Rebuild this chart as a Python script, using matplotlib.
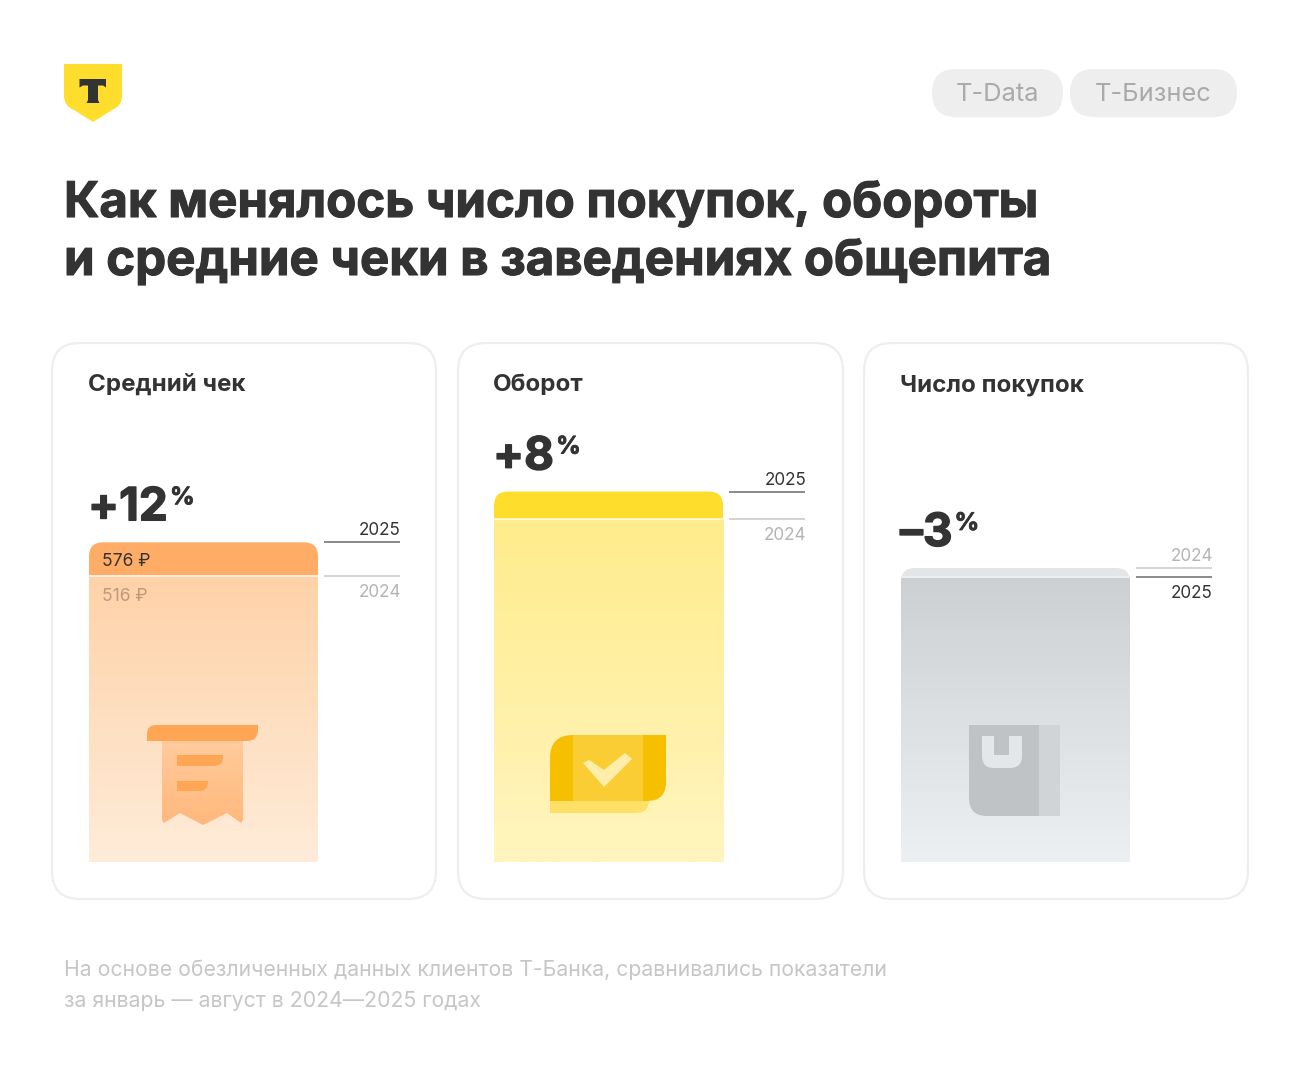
import numpy as np
import matplotlib
matplotlib.use("Agg")
import matplotlib.pyplot as plt
import matplotlib.patheffects as pe
from matplotlib.colors import LinearSegmentedColormap
from matplotlib.patches import PathPatch, Polygon
from matplotlib.path import Path

plt.rcParams['font.family'] = ['Inter', 'Roboto', 'DejaVu Sans']

W, H = 1301, 1080
DARK = '#333333'
GREY_TXT = '#b4b4b4'

# chart data
panel_titles = ["Средний чек", "Оборот", "Число покупок"]
deltas = ["+12", "+8", "–3"]
years = ["2024", "2025"]
# rubles for the first panel, the other two are index 2024 = 100
values_2024 = [516, 100, 100]
values_2025 = [576, 108, 97]
bar_labels = [["516 ₽", "576 ₽"], None, None]

title_lines = ["Как менялось число покупок, обороты",
               "и средние чеки в заведениях общепита"]
note_lines = ["На основе обезличенных данных клиентов Т-Банка, сравнивались показатели",
              "за январь — август в 2024—2025 годах"]
pills = ["T-Data", "Т-Бизнес"]

# layout, px
card_x = [(52, 436), (458, 843), (864, 1248)]
bar_left = [89, 494, 901]
px_per_unit = [0.555, 3.43, 2.94]
bar_colors = [
    ('#ffad66', '#ffd2a8', '#feecd9'),
    ('#ffdd2d', '#ffec8c', '#fff5bf'),
    ('#e4e5e7', '#cdd0d3', '#edf0f3'),
]
BAR_W = 229
BASE_Y = 862
RADIUS = 14

fig = plt.figure(figsize=(W / 100, H / 100), dpi=100, facecolor='white')


def px_axes(zorder):
    ax = fig.add_axes([0, 0, 1, 1], zorder=zorder)
    ax.set_xlim(0, W)
    ax.set_ylim(H, 0)
    ax.axis('off')
    ax.patch.set_alpha(0)
    return ax


def rrect(x0, y0, x1, y1, tl=0, tr=0, br=0, bl=0, ry_scale=1.0):
    # rect with own radius on each corner, y0 is the upper side in the pixel axes
    s = ry_scale
    verts = [(x0 + tl, y0), (x1 - tr, y0), (x1, y0), (x1, y0 + tr * s),
             (x1, y1 - br * s), (x1, y1), (x1 - br, y1),
             (x0 + bl, y1), (x0, y1), (x0, y1 - bl * s),
             (x0, y0 + tl * s), (x0, y0), (x0 + tl, y0), (x0 + tl, y0)]
    codes = [Path.MOVETO, Path.LINETO, Path.CURVE3, Path.CURVE3,
             Path.LINETO, Path.CURVE3, Path.CURVE3,
             Path.LINETO, Path.CURVE3, Path.CURVE3,
             Path.LINETO, Path.CURVE3, Path.CURVE3, Path.CLOSEPOLY]
    return Path(verts, codes)


def fill(ax, path, color, **kw):
    p = PathPatch(path, facecolor=color, edgecolor='none', **kw)
    ax.add_patch(p)
    return p


def gradient(ax, extent, top, bottom, clip=None, zorder=1.5):
    cmap = LinearSegmentedColormap.from_list('g', [top, bottom])
    im = ax.imshow(np.linspace(0, 1, 256).reshape(-1, 1), cmap=cmap, extent=extent,
                   aspect='auto', origin='upper', interpolation='bilinear', zorder=zorder)
    if clip is not None:
        im.set_clip_path(clip)
    return im


bg = px_axes(0)

# logo
shield = Path([(64, 64), (122, 64), (122, 96), (122, 106), (112, 110), (93, 122),
               (74, 110), (64, 106), (64, 96), (64, 64), (64, 64)],
              [Path.MOVETO, Path.LINETO, Path.LINETO, Path.CURVE3, Path.CURVE3, Path.LINETO,
               Path.LINETO, Path.CURVE3, Path.CURVE3, Path.LINETO, Path.CLOSEPOLY])
fill(bg, shield, '#ffdd2d')
bg.add_patch(Polygon([(79.5, 79), (106, 79), (106, 87.5), (103, 85.5), (98, 85.5), (98, 100),
                     (99.5, 103), (86.5, 103), (88, 100), (88, 85.5), (83, 85.5), (79.5, 87.5)],
                     closed=True, facecolor=DARK, edgecolor='none'))

# pills
for label, (x0, x1) in zip(pills, [(932, 1063), (1070, 1237)]):
    fill(bg, rrect(x0, 69, x1, 117, 24, 24, 24, 24), '#eeeeee')
    bg.text((x0 + x1) / 2, 101, label, ha='center', va='baseline', fontsize=18.3, color='#aaaaaa')

# title
for line, y in zip(title_lines, [217, 275]):
    bg.text(64, y, line, fontsize=35.4, fontweight='bold', color=DARK, va='baseline',
            path_effects=[pe.withStroke(linewidth=0.8, foreground=DARK)])

# footnote
for line, y in zip(note_lines, [976, 1007]):
    bg.text(64, y, line, fontsize=15.25, color='#c6c6c6', va='baseline')

# cards
for (x0, x1), name, bx in zip(card_x, panel_titles, bar_left):
    p = rrect(x0, 343, x1, 899, 28, 28, 28, 28)
    bg.add_patch(PathPatch(p, facecolor='white', edgecolor='#eeeeee', linewidth=1.6))
    bg.text(bx - 1, 391, name, fontsize=17.4, fontweight='bold', color=DARK, va='baseline')

renderer = fig.canvas.get_renderer()

# bars, one axes per panel because each has its own y scale
for i in range(3):
    v24, v25 = values_2024[i], values_2025[i]
    scale = px_per_unit[i]
    ax_h = 460
    ax_w = 311
    ax = fig.add_axes([bar_left[i] / W, (H - BASE_Y) / H, ax_w / W, ax_h / H], zorder=1)
    ax.axis('off')
    ax.patch.set_alpha(0)

    hi, lo = max(v24, v25), min(v24, v25)
    cap, top_c, bot_c = bar_colors[i]
    ry = 1 / scale  # one px in y units
    back = rrect(0, hi, BAR_W, 0, RADIUS, RADIUS, 0, 0, ry_scale=-ry)
    fill(ax, back, cap)
    gradient(ax, [0, BAR_W, 0, lo], top_c, bot_c)
    ax.plot([0, BAR_W], [lo, lo], color='white', lw=1.2, alpha=0.8, solid_capstyle='butt', zorder=2)

    # year leaders on the right of the bar
    for year, v in zip(years, (v24, v25)):
        col = '#777777' if year == "2025" else '#cccccc'
        txt = DARK if year == "2025" else GREY_TXT
        ax.plot([235, 311], [v, v], color=col, lw=1.2, solid_capstyle='butt')
        above = v == hi
        ax.annotate(year, (311, v), xytext=(1, 7 if above else -21), textcoords='offset pixels',
                    ha='right', va='baseline', fontsize=12.3, color=txt)

    # value labels inside the bar
    if bar_labels[i]:
        ax.annotate(bar_labels[i][1], (13, v25), xytext=(0, -24), textcoords='offset pixels',
                    fontsize=12.6, color=DARK, va='baseline', zorder=3)
        ax.annotate(bar_labels[i][0], (13, v24), xytext=(0, -25), textcoords='offset pixels',
                    fontsize=12.6, color='#bf9a7a', va='baseline', zorder=3)

    # +12% headline
    t = ax.annotate(deltas[i], (0, hi), xytext=(-1, 22), textcoords='offset pixels',
                    fontsize=33, fontweight='bold', color=DARK, va='baseline',
                    path_effects=[pe.withStroke(linewidth=1.0, foreground=DARK)])
    ax.set_xlim(0, ax_w)
    ax.set_ylim(0, ax_h / scale)
    w = t.get_window_extent(renderer).width
    ax.annotate("%", (0, hi), xytext=(w + 1, 38), textcoords='offset pixels',
                fontsize=17.5, fontweight='bold', color=DARK, va='baseline',
                path_effects=[pe.withStroke(linewidth=0.6, foreground=DARK)])

ico = px_axes(2)

# receipt
body = Path([(162, 741), (243, 741), (243, 820), (241, 823), (227, 813), (203, 825), (180, 813),
             (164, 823), (162, 820), (162, 741)],
            [Path.MOVETO] + [Path.LINETO] * 8 + [Path.CLOSEPOLY])
body_p = fill(ico, body, 'none')
gradient(ico, [162, 243, 825, 741], '#ffcb9c', '#ffb87c', clip=body_p, zorder=0.5)
fill(ico, rrect(147, 725, 258, 741, 9, 0, 11, 0), '#ffa655')
fill(ico, rrect(177, 755, 223, 766, 0, 0, 9, 0), '#ffa655')
fill(ico, rrect(177, 781, 208, 791, 0, 0, 9, 0), '#ffa655')

# wallet
fill(ico, rrect(550, 795, 649, 813, 0, 0, 13, 0), '#ffe066')
fill(ico, rrect(550, 735, 666, 801, 23, 0, 19, 0), '#f6bf00')
ico.add_patch(Polygon([(573, 735), (643, 735), (643, 801), (573, 801)], closed=True,
                      facecolor='#fbcd34', edgecolor='none'))
ico.add_patch(Polygon([(583, 763), (589, 760), (604, 770), (625, 753), (632, 759), (604, 787)],
                      closed=True, facecolor='#ffeeaa', edgecolor='none'))

# bag
fill(ico, rrect(1030, 725, 1060, 816), '#d0d4d7')
fill(ico, rrect(969, 725, 1039, 816, 0, 0, 0, 18), '#bfc3c6')
handle = Path([(984, 736), (994, 736), (994, 755), (1009, 755), (1009, 736), (1022, 736),
               (1022, 756), (1022, 768), (1010, 768), (994, 768), (982, 768), (982, 756),
               (982, 736), (984, 736)],
              [Path.MOVETO, Path.LINETO, Path.LINETO, Path.LINETO, Path.LINETO, Path.LINETO,
               Path.LINETO, Path.CURVE3, Path.CURVE3, Path.LINETO, Path.CURVE3, Path.CURVE3,
               Path.LINETO, Path.CLOSEPOLY])
fill(ico, handle, '#e4e7ea')

ico.set_xlim(0, W)
ico.set_ylim(H, 0)

fig.savefig("out.png", dpi=100)
